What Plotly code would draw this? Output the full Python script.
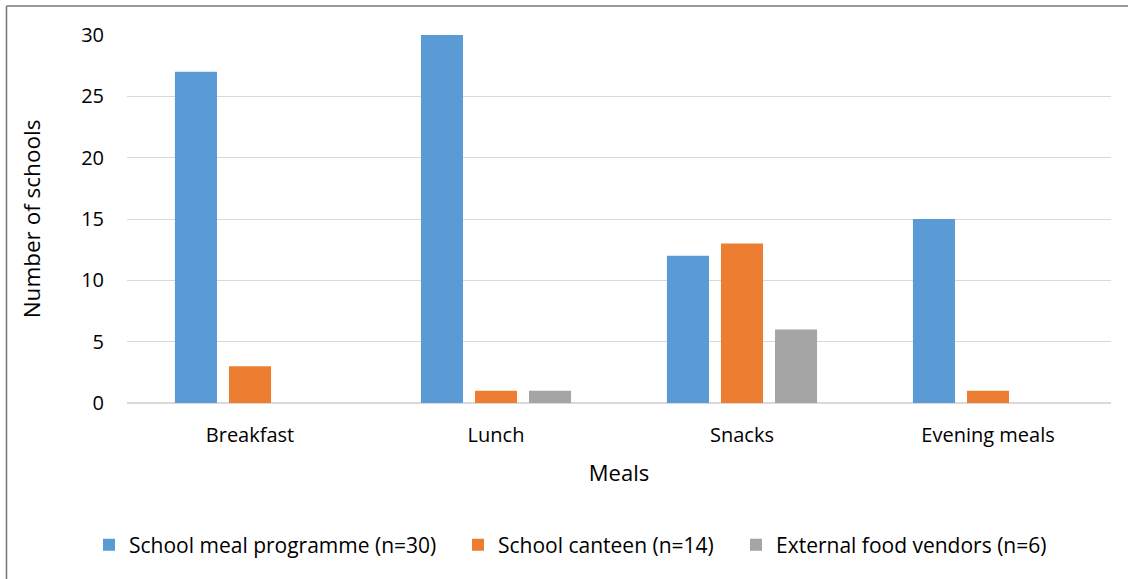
import plotly.graph_objects as go

# Meals served, by provider
meals = ["Breakfast", "Lunch", "Snacks", "Evening meals"]
school_meal_programme = [27, 30, 12, 15]
school_canteen = [3, 1, 13, 1]
external_food_vendors = [0, 1, 6, 0]

series_names = [
    "School meal programme (n=30)",
    "School canteen (n=14)",
    "External food vendors (n=6)",
]
series_colors = ["#5B9BD5", "#ED7D31", "#A5A5A5"]
y_ticks = [0, 5, 10, 15, 20, 25, 30]

W, H = 1128, 579
ML, MR, MT, MB = 127, 17, 35, 176
FONT = "Open Sans"

pw = W - ML - MR
ph = H - MT - MB


def px_x(p):
    return (p - ML) / pw


def px_y(p):
    return (H - MB - p) / ph


# one legend per series so each entry sits at its own spot along the bottom
legend_left = [89, 458, 736]
legend_ids = ["legend", "legend2", "legend3"]

fig = go.Figure()
for name, vals, color, lid in zip(
    series_names,
    [school_meal_programme, school_canteen, external_food_vendors],
    series_colors,
    legend_ids,
):
    fig.add_trace(go.Bar(x=meals, y=vals, name=name, marker_color=color,
                         marker_line_width=0, legend=lid))

legend_style = dict(orientation="h", xanchor="left", y=px_y(545),
                    yanchor="middle", itemwidth=30,
                    font=dict(family=FONT, size=21, color="#000000"))

fig.update_layout(
    width=W, height=H,
    margin=dict(l=ML, r=MR, t=MT, b=MB, autoexpand=False),
    paper_bgcolor="white", plot_bgcolor="white",
    font=dict(family=FONT, size=20, color="#000000"),
    barmode="group", bargap=0.341, bargroupgap=0.222,
    showlegend=True,
    legend=dict(x=px_x(legend_left[0]), **legend_style),
    legend2=dict(x=px_x(legend_left[1]), **legend_style),
    legend3=dict(x=px_x(legend_left[2]), **legend_style),
    xaxis=dict(showgrid=False, showline=False, ticks="", zeroline=False,
               tickfont=dict(size=20), ticklabelstandoff=18,
               title=dict(text="Meals", font=dict(size=22), standoff=18)),
    yaxis=dict(range=[0, 30], tickvals=y_ticks, showgrid=True,
               gridcolor="#D9D9D9", gridwidth=1.3, zeroline=True,
               zerolinecolor="#D9D9D9", zerolinewidth=1.5,
               showline=False, ticks="", tickfont=dict(size=20),
               ticklabelstandoff=22,
               title=dict(text="Number of schools", font=dict(size=22.5),
                          standoff=34)),
    shapes=[
        dict(type="line", xref="paper", yref="paper",
             x0=px_x(6.5), x1=px_x(W + 5), y0=px_y(6), y1=px_y(6),
             line=dict(color="#767676", width=1.5)),
        dict(type="line", xref="paper", yref="paper",
             x0=px_x(6.5), x1=px_x(6.5), y0=px_y(6), y1=px_y(H + 5),
             line=dict(color="#767676", width=1.5)),
    ],
)

fig.write_html("out.html")
